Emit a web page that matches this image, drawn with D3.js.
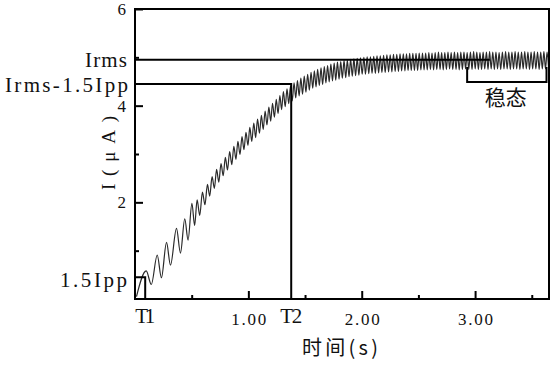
<!DOCTYPE html>
<html lang="zh">
<head>
<meta charset="utf-8"/>
<script src="https://d3js.org/d3.v7.min.js"></script>
<style>
  body { margin: 0; background: #fff; }
  .lat { font-family: "Liberation Serif", serif; fill: #111; }
  .cjk { font-family: "Noto Sans CJK SC", sans-serif; fill: #111; }
</style>
</head>
<body>
<div id="chart"></div>
<script>
// ticks
var xMajor = [1, 2, 3];
var xMinor = [0.5, 1.5, 2.5, 3.5];
var yMajor = [2, 4, 6];
var yMinor = [1, 3, 5];

// annotation levels
var irms = 4.95;
var irmsLow = 4.45;     // Irms - 1.5Ipp
var ipp15 = 0.45;       // 1.5Ipp
var t1 = 0.09;
var t2 = 1.378;
var irmsEnd = 3.13;
var steadyFrom = 2.93, steadyTo = 3.63, steadyTop = 4.80, steadyBottom = 4.49;

// current waveform, peaks and troughs (s, uA)
var timeS = [
  0.013, 0.099, 0.144, 0.196, 0.233, 0.278, 0.313, 0.366, 0.401, 0.439, 0.468, 0.502, 0.526,
  0.548, 0.571, 0.595, 0.617, 0.639, 0.659, 0.680, 0.700, 0.720, 0.739, 0.759, 0.778,
  0.797, 0.816, 0.835, 0.854, 0.872, 0.890, 0.908, 0.926, 0.944, 0.961, 0.979, 0.996,
  1.013, 1.030, 1.048, 1.064, 1.081, 1.098, 1.115, 1.131, 1.148, 1.164, 1.181, 1.197,
  1.213, 1.230, 1.246, 1.262, 1.278, 1.293, 1.309, 1.325, 1.341, 1.356, 1.372, 1.387,
  1.403, 1.418, 1.433, 1.448, 1.463, 1.478, 1.493, 1.508, 1.523, 1.538, 1.553, 1.568,
  1.582, 1.597, 1.611, 1.626, 1.641, 1.655, 1.670, 1.684, 1.699, 1.713, 1.728, 1.742,
  1.757, 1.771, 1.786, 1.800, 1.815, 1.829, 1.844, 1.859, 1.873, 1.888, 1.902, 1.917,
  1.931, 1.946, 1.960, 1.975, 1.989, 2.004, 2.019, 2.033, 2.048, 2.062, 2.077, 2.091,
  2.106, 2.120, 2.135, 2.149, 2.164, 2.178, 2.193, 2.207, 2.222, 2.237, 2.251, 2.266,
  2.280, 2.295, 2.309, 2.324, 2.338, 2.352, 2.367, 2.381, 2.395, 2.409, 2.423, 2.437,
  2.451, 2.465, 2.479, 2.493, 2.507, 2.522, 2.536, 2.550, 2.564, 2.578, 2.592, 2.606,
  2.620, 2.634, 2.648, 2.662, 2.677, 2.691, 2.705, 2.719, 2.733, 2.747, 2.761, 2.775,
  2.789, 2.803, 2.818, 2.832, 2.846, 2.860, 2.874, 2.888, 2.902, 2.916, 2.930, 2.944,
  2.959, 2.973, 2.987, 3.001, 3.015, 3.029, 3.043, 3.057, 3.071, 3.085, 3.100, 3.114,
  3.128, 3.142, 3.156, 3.170, 3.184, 3.198, 3.212, 3.226, 3.241, 3.255, 3.269, 3.283,
  3.297, 3.311, 3.325, 3.339, 3.353, 3.367, 3.381, 3.395, 3.410, 3.424, 3.438, 3.452,
  3.466, 3.480, 3.494, 3.508, 3.522, 3.536, 3.551, 3.565, 3.579, 3.593, 3.607, 3.621,
  3.635, 3.649
];
var currentUA = [
  0.05, 0.58, 0.30, 0.91, 0.44, 1.17, 0.70, 1.46, 0.95, 1.66, 1.22, 1.98, 1.52,
  2.05, 1.73, 2.21, 1.95, 2.37, 2.13, 2.53, 2.29, 2.68, 2.42, 2.80, 2.55,
  2.93, 2.67, 3.05, 2.78, 3.16, 2.89, 3.26, 2.99, 3.36, 3.09, 3.45, 3.18,
  3.55, 3.26, 3.64, 3.34, 3.72, 3.43, 3.80, 3.51, 3.89, 3.60, 3.97, 3.68,
  4.05, 3.76, 4.13, 3.84, 4.21, 3.92, 4.29, 3.98, 4.35, 4.04, 4.41, 4.10,
  4.47, 4.16, 4.52, 4.20, 4.57, 4.24, 4.61, 4.28, 4.65, 4.32, 4.69, 4.36,
  4.72, 4.39, 4.75, 4.42, 4.78, 4.44, 4.81, 4.47, 4.83, 4.49, 4.86, 4.51,
  4.88, 4.53, 4.90, 4.55, 4.91, 4.57, 4.93, 4.58, 4.94, 4.60, 4.96, 4.61,
  4.97, 4.62, 4.98, 4.63, 4.99, 4.65, 5.00, 4.65, 5.01, 4.66, 5.01, 4.67,
  5.02, 4.67, 5.03, 4.68, 5.03, 4.69, 5.04, 4.69, 5.05, 4.70, 5.05, 4.70,
  5.06, 4.71, 5.06, 4.71, 5.07, 4.72, 5.07, 4.72, 5.07, 4.73, 5.08, 4.73,
  5.08, 4.73, 5.08, 4.73, 5.09, 4.74, 5.09, 4.74, 5.09, 4.74, 5.10, 4.75,
  5.09, 4.74, 5.10, 4.75, 5.11, 4.75, 5.10, 4.74, 5.10, 4.75, 5.11, 4.76,
  5.10, 4.75, 5.11, 4.75, 5.10, 4.74, 5.11, 4.75, 5.11, 4.76, 5.10, 4.75,
  5.11, 4.75, 5.12, 4.76, 5.11, 4.75, 5.10, 4.75, 5.11, 4.76, 5.11, 4.75,
  5.12, 4.76, 5.11, 4.75, 5.11, 4.76, 5.10, 4.75, 5.11, 4.76, 5.12, 4.76,
  5.11, 4.75, 5.11, 4.76, 5.12, 4.76, 5.11, 4.75, 5.11, 4.76, 5.12, 4.76,
  5.11, 4.75, 5.11, 4.76, 5.12, 4.76, 5.11, 4.75, 5.11, 4.76, 5.12, 4.76,
  5.11, 4.76
];

var width = 557, height = 367;
var margin = {left: 135, right: 8, top: 9, bottom: 68};
var plotR = width - margin.right, plotB = height - margin.bottom;

var svg = d3.select("#chart").append("svg")
    .attr("width", width).attr("height", height);

var x = d3.scaleLinear().domain([0, 3.652]).range([margin.left, plotR]);
var y = d3.scaleLinear().domain([0, 6]).range([plotB, margin.top]);

svg.append("clipPath").attr("id", "plot")
  .append("rect").attr("x", margin.left).attr("y", margin.top)
    .attr("width", plotR - margin.left).attr("height", plotB - margin.top);

// waveform
var pts = timeS.map(function (t, i) { return [t, currentUA[i]]; });
var line = d3.line()
    .x(function (d) { return x(d[0]); })
    .y(function (d) { return y(d[1]); })
    .curve(d3.curveMonotoneX);

svg.append("path")
    .datum(pts)
    .attr("clip-path", "url(#plot)")
    .attr("d", line)
    .attr("fill", "none")
    .attr("stroke", "#2a2a2a")
    .attr("stroke-width", 1.2);

// axes, ticks inside
var gx = svg.append("g").attr("transform", "translate(0," + plotB + ")");
gx.call(d3.axisBottom(x).tickValues(xMajor).tickSize(-8).tickSizeOuter(0).tickPadding(14)
    .tickFormat(d3.format(".2f")));
svg.append("g").attr("transform", "translate(0," + plotB + ")")
  .call(d3.axisBottom(x).tickValues(xMinor).tickSize(-4).tickSizeOuter(0).tickFormat(""));

var gy = svg.append("g").attr("transform", "translate(" + margin.left + ",0)");
gy.call(d3.axisLeft(y).tickValues(yMajor).tickSize(-8).tickSizeOuter(0).tickPadding(9)
    .tickFormat(d3.format("d")));
svg.append("g").attr("transform", "translate(" + margin.left + ",0)")
  .call(d3.axisLeft(y).tickValues(yMinor).tickSize(-4).tickSizeOuter(0).tickFormat(""));

svg.selectAll(".domain").remove();
svg.selectAll(".tick line").attr("stroke", "#000").attr("stroke-width", 2);
svg.selectAll(".tick text").attr("class", "lat").style("font-size", "17px").attr("fill", "#111");
gx.selectAll(".tick text").attr("textLength", 35).attr("lengthAdjust", "spacing");

// frame
svg.append("rect")
    .attr("x", margin.left).attr("y", margin.top)
    .attr("width", plotR - margin.left).attr("height", plotB - margin.top)
    .attr("fill", "none").attr("stroke", "#000").attr("stroke-width", 2);

// marker lines
var ann = svg.append("g").attr("stroke", "#000").attr("stroke-width", 2).attr("fill", "none");
ann.append("line").attr("x1", x(0)).attr("x2", x(irmsEnd)).attr("y1", y(irms)).attr("y2", y(irms));
ann.append("path").attr("d", d3.line()([[x(0), y(irmsLow)], [x(t2), y(irmsLow)], [x(t2), y(0)]]));
ann.append("path").attr("d", d3.line()([[x(0), y(ipp15)], [x(t1), y(ipp15)], [x(t1), y(0)]]));
ann.append("path").attr("d", d3.line()([
  [x(steadyFrom), y(steadyTop)], [x(steadyFrom), y(steadyBottom)],
  [x(steadyTo), y(steadyBottom)], [x(steadyTo), y(steadyTop)]
]));

// labels
function label(txt, px, py, anchor, len, size) {
  var t = svg.append("text").attr("class", "lat")
      .attr("x", px).attr("y", py).attr("dy", "0.35em")
      .attr("text-anchor", anchor)
      .style("font-size", size + "px")
      .text(txt);
  if (len) t.attr("textLength", len).attr("lengthAdjust", "spacing");
  return t;
}
label("Irms", margin.left - 8, y(irms), "end", 42, 21);
label("Irms-1.5Ipp", margin.left - 7, y(irmsLow) + 1, "end", 123, 21);
label("1.5Ipp", margin.left - 8, y(ipp15) + 2, "end", 67, 21);
label("T1", x(t1), 316, "middle", 20, 21);
label("T2", x(t2), 316, "middle", 22, 21);

svg.append("text").attr("class", "cjk")
    .attr("x", x(3.27)).attr("y", y(4.16)).attr("dy", "0.35em")
    .attr("text-anchor", "middle").style("font-size", "21px")
    .text("稳态");

svg.append("text").attr("class", "cjk")
    .attr("x", 340).attr("y", 348).attr("dy", "0.35em")
    .attr("text-anchor", "middle").style("font-size", "20px")
    .attr("textLength", 76).attr("lengthAdjust", "spacing")
    .text("时间(s)");

svg.append("text").attr("class", "lat")
    .attr("transform", "translate(108,153) rotate(-90)")
    .attr("dy", "0.35em")
    .attr("text-anchor", "middle").style("font-size", "19px")
    .attr("textLength", 74).attr("lengthAdjust", "spacing")
    .text("I(μA)");
</script>
</body>
</html>
